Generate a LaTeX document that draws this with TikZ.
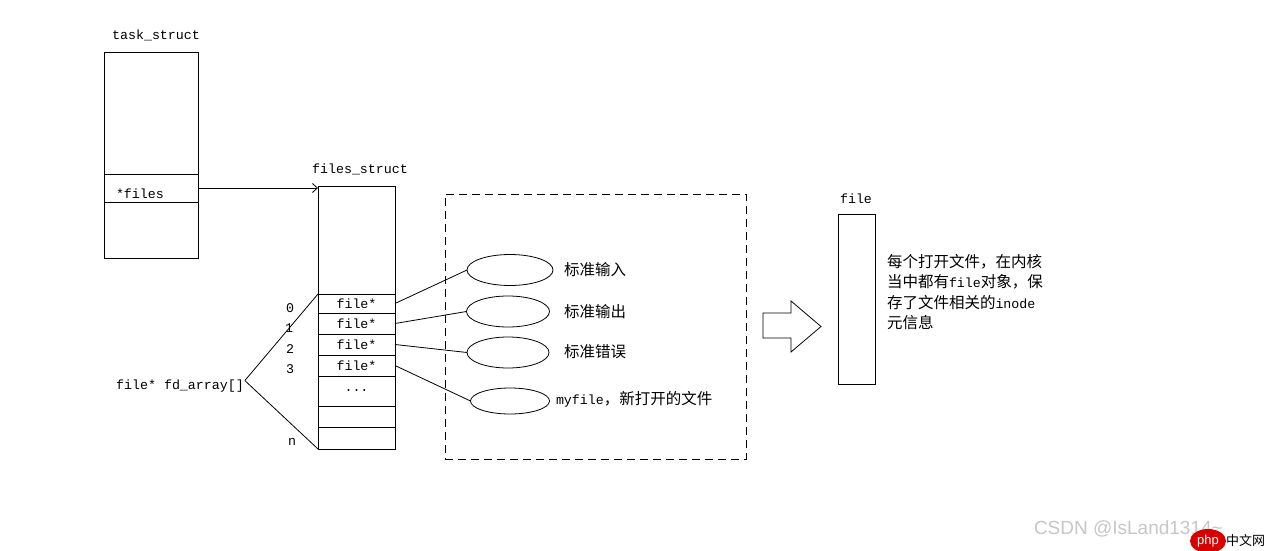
\documentclass[tikz,border=0pt]{standalone}
\usepackage{fontspec}
\setmainfont{Liberation Mono}
\newfontfamily\cjk{Noto Sans CJK SC}
\newfontfamily\wmfont{Liberation Sans}
\usetikzlibrary{shapes.geometric,arrows.meta}
\newcommand\latxt[1]{{\normalfont\fontsize{13.3}{20.5}\selectfont #1}}
\begin{document}
\begin{tikzpicture}[x=1pt,y=-1pt,
  line width=0.8pt,
  every node/.style={inner sep=0pt,outer sep=0pt},
  mono/.style={font=\fontsize{13.3}{16}\selectfont},
  cn/.style={font=\fontsize{15.5}{20.5}\selectfont\cjk},
  cell/.style={draw,rectangle,minimum width=77pt,minimum height=#1,mono},
  oval/.style={draw,ellipse},
  lbl/.style={mono,anchor=base}
]
\useasboundingbox[fill=white] (0,0) rectangle (1274,551);

% task_struct
\node[lbl] (tsl) at (156,40) {task\_struct};
\node[draw,minimum width=94pt,minimum height=206pt] (ts) at (151,155) {};
\node[draw,minimum width=94pt,minimum height=28pt] (tf) at (151,188) {};
\node[mono,anchor=base west] (tft) at (116,198) {*files};

% files_struct
\node[lbl] (fsl) at (360,173) {files\_struct};
\node[draw,minimum width=77pt,minimum height=263pt] (fs) at (356.5,317.5) {};
\node[cell=19pt] (r0) at (356.5,303.5) {file*};
\node[cell=21pt] (r1) at (356.5,323.5) {file*};
\node[cell=21pt] (r2) at (356.5,344.5) {file*};
\node[cell=21pt] (r3) at (356.5,365.5) {file*};
\node[cell=30pt] (r4) at (356.5,391) {...};
\node[cell=21pt] (r5) at (356.5,416.5) {};
\node[cell=22pt] (r6) at (356.5,438) {};

\draw[-{Straight Barb[length=5pt,width=9pt]}] (tf.east) -- (tf.east -| fs.west);

% indices
\node[lbl] (i0) at (290,312) {0};
\node[lbl] (i1) at (289,332) {1};
\node[lbl] (i2) at (290,353) {2};
\node[lbl] (i3) at (290,373) {3};
\node[lbl] (in) at (292,445) {n};
\node[lbl] (fd) at (180,389) {file* fd\_array[]};
\path (fd.east) ++(1,-5) coordinate (fdp);
\draw (fdp) -- (r0.north west);
\draw (fdp) -- (r6.south west);

% dashed box and ellipses
\node[draw,dash pattern=on 8pt off 5pt,minimum width=301pt,minimum height=265pt] (dbox) at (595.5,326.5) {};
\node[oval,minimum width=86pt,minimum height=31pt] (e1) at (510,270) {};
\node[oval,minimum width=83pt,minimum height=31pt] (e2) at (508,311.5) {};
\node[oval,minimum width=82pt,minimum height=31pt] (e3) at (508,352.5) {};
\node[oval,minimum width=79pt,minimum height=26pt] (e4) at (510,401) {};
\draw (r0.east) -- (e1.west);
\draw (r1.east) -- (e2.west);
\draw (r2.east) -- (e3.west);
\draw (r3.east) -- (e4.west);
\node[cn,anchor=west] (t1) at (564,270) {标准输入};
\node[cn,anchor=west] (t2) at (564,312) {标准输出};
\node[cn,anchor=west] (t3) at (564,352) {标准错误};
\node[cn,anchor=west] (t4) at (556,399) {\latxt{myfile}，新打开的文件};

% big arrow
\draw (763,313) -- (791,313) -- (791,301) -- (821,326.5) -- (791,352) -- (791,338) -- (763,338) -- cycle;

% file
\node[lbl] (fl) at (856,203) {file};
\node[draw,minimum width=37pt,minimum height=170pt] (fb) at (856.5,299) {};
\node[cn,anchor=north west,align=left] (desc) at (887,254)
  {每个打开文件，在内核\\当中都有\latxt{file}对象，保\\存了文件相关的\latxt{inode}\\元信息};

% watermark
\node[anchor=west,text=black!22,font=\wmfont\fontsize{19}{19}\selectfont] (wm) at (1034,529) {CSDN @IsLand1314\textasciitilde};
\node[ellipse,fill=red!85!black,minimum width=36pt,minimum height=24pt,text=white,font=\wmfont\fontsize{13}{13}\selectfont] (php) at (1208,541) {php};
\node[anchor=west,font=\cjk\fontsize{13}{13}\selectfont] (zw) at (1226,541) {中文网};
\end{tikzpicture}
\end{document}
